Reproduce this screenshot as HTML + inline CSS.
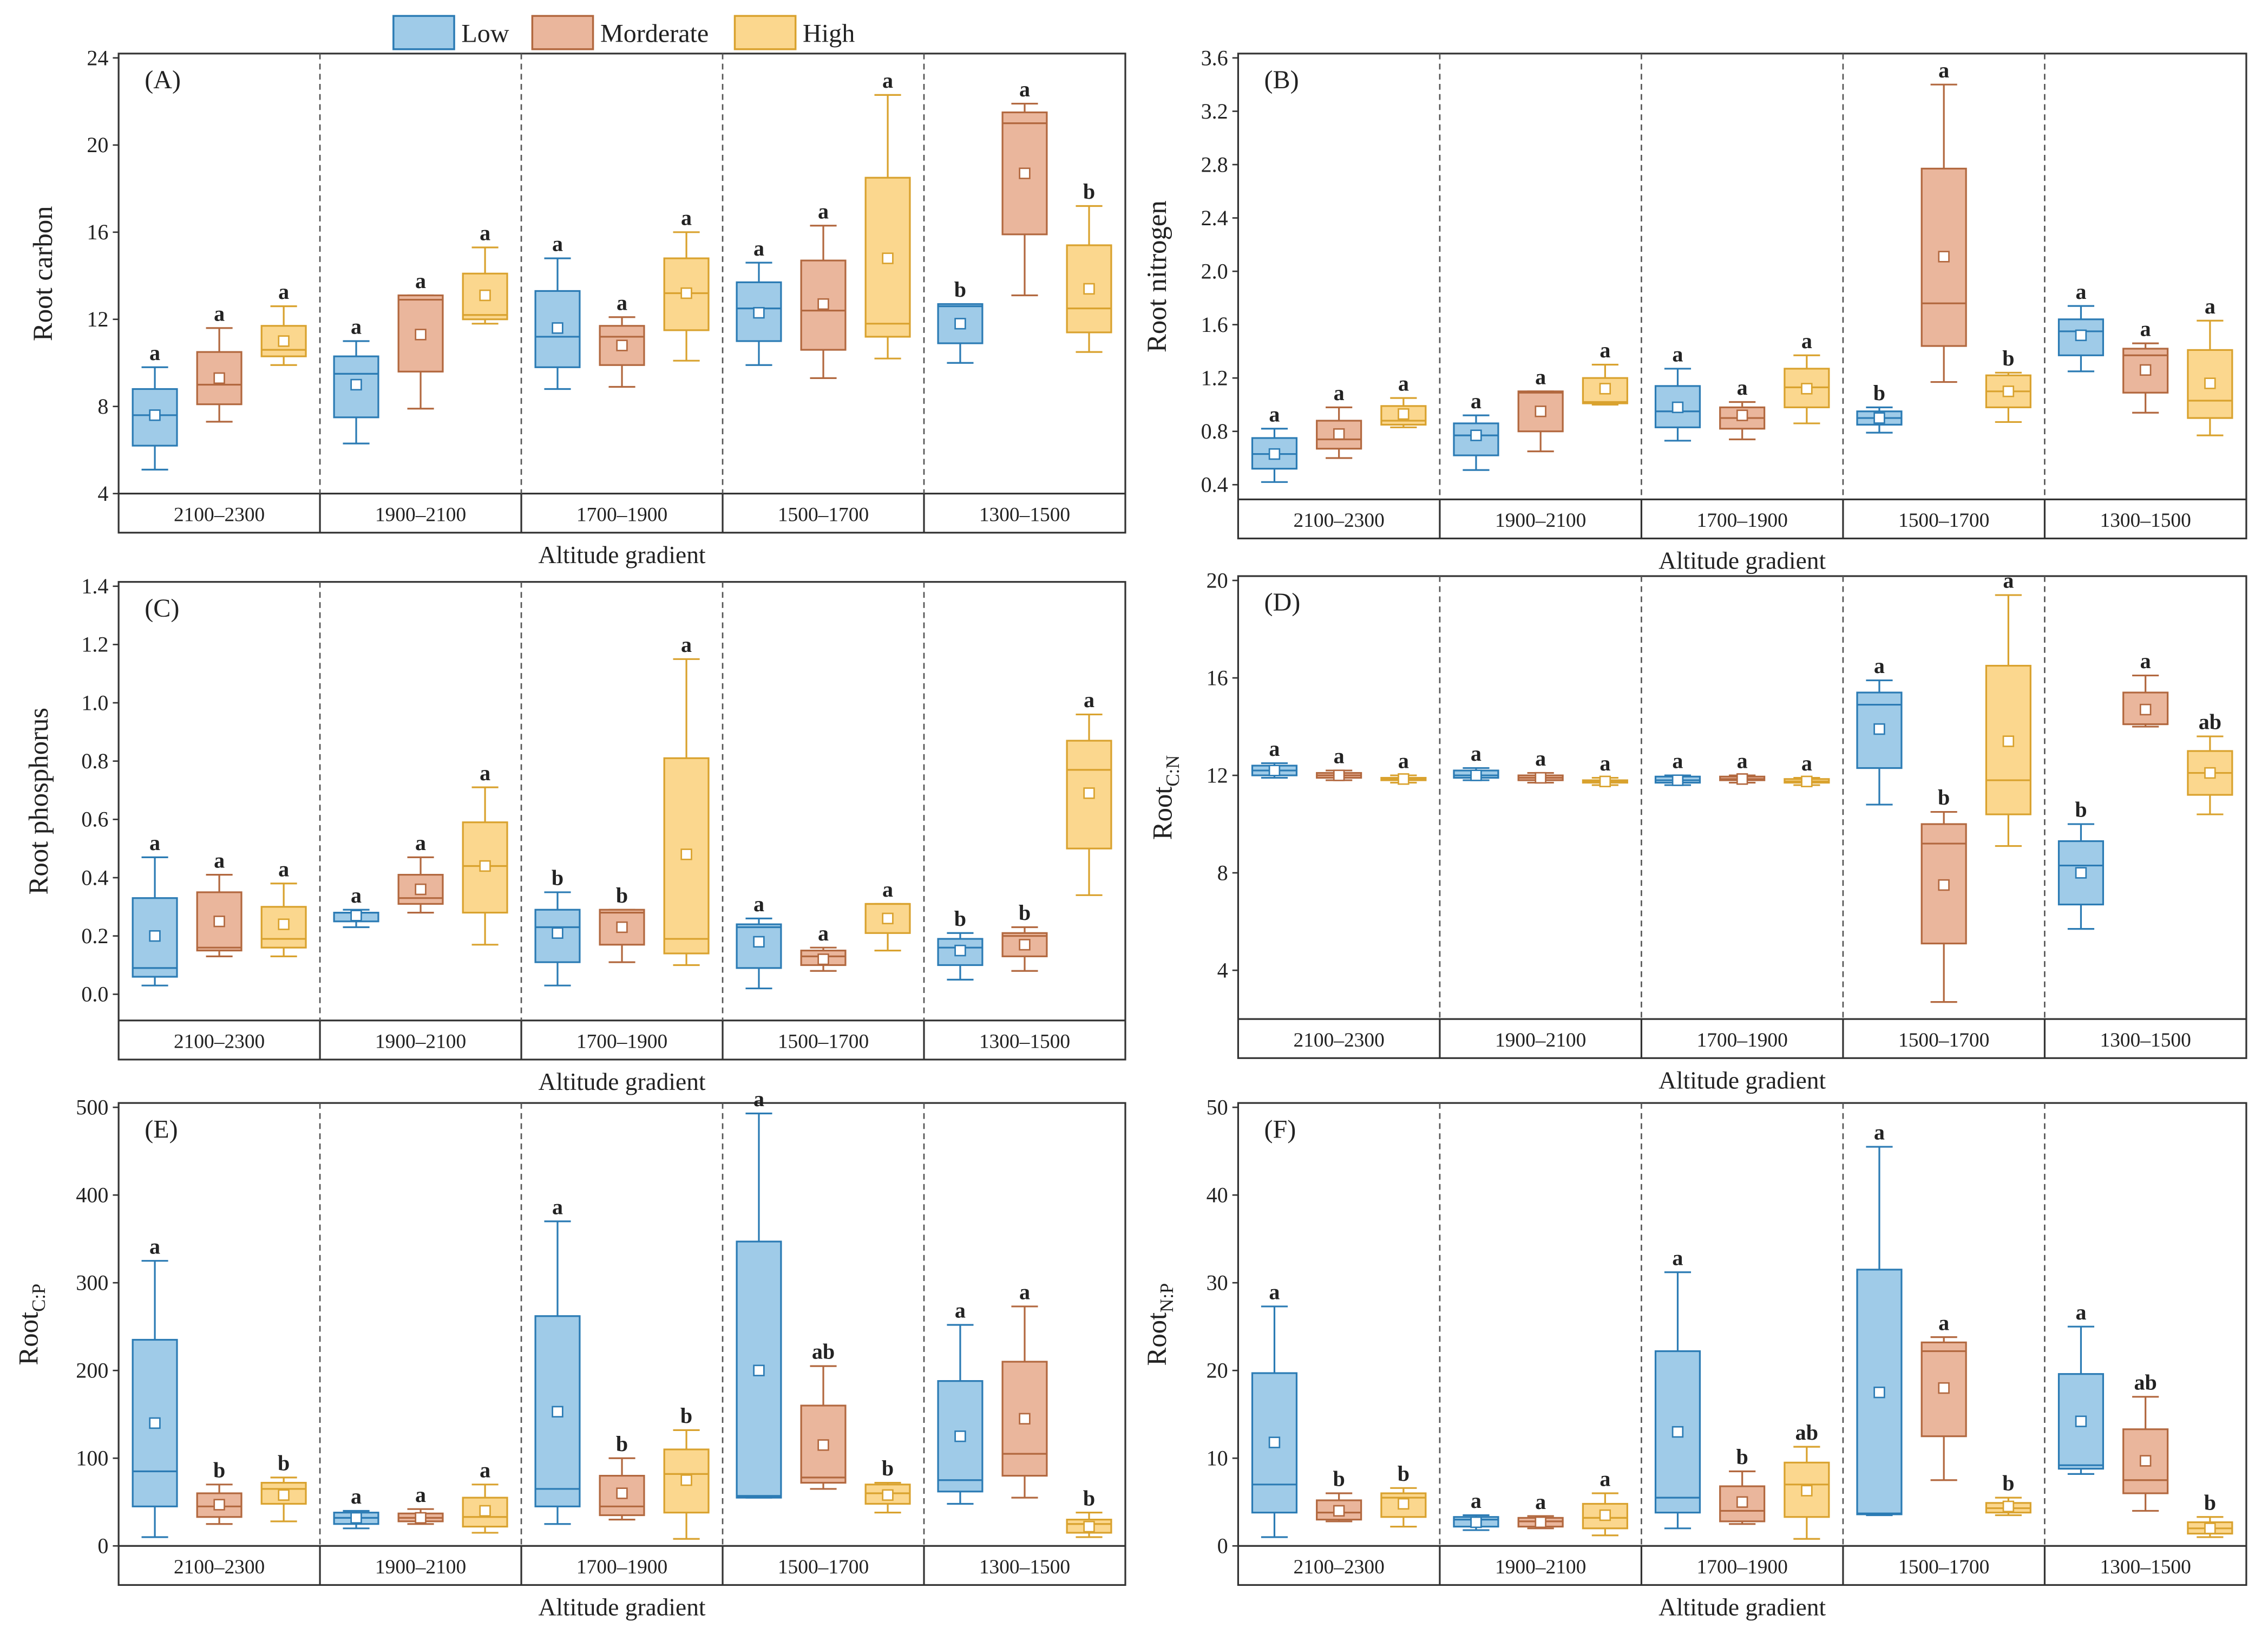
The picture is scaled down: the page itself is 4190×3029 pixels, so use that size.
<!DOCTYPE html>
<html><head><meta charset="utf-8"><style>
html,body{margin:0;padding:0;background:#fff;}
svg{display:block;}
text{font-family:"Liberation Serif",serif;fill:#222;}
</style></head><body>
<svg id="chart" width="4190" height="3029" viewBox="0 0 1568 1133" preserveAspectRatio="none" xmlns="http://www.w3.org/2000/svg"></svg>
<script>
const groupLabels = ["2100–2300","1900–2100","1700–1900","1500–1700","1300–1500"];
const seriesNames = ["Low","Morderate","High"];
// box stats: [whiskerLow, q1, median, q3, whiskerHigh, mean]
const carbonBoxes = [[5.1,6.2,7.6,8.8,9.8,7.6],[7.3,8.1,9.0,10.5,11.6,9.3],[9.9,10.3,10.6,11.7,12.6,11.0],
 [6.3,7.5,9.5,10.3,11.0,9.0],[7.9,9.6,12.9,13.1,13.1,11.3],[11.8,12.0,12.2,14.1,15.3,13.1],
 [8.8,9.8,11.2,13.3,14.8,11.6],[8.9,9.9,11.2,11.7,12.1,10.8],[10.1,11.5,13.2,14.8,16.0,13.2],
 [9.9,11.0,12.5,13.7,14.6,12.3],[9.3,10.6,12.4,14.7,16.3,12.7],[10.2,11.2,11.8,18.5,22.3,14.8],
 [10.0,10.9,12.6,12.7,12.7,11.8],[13.1,15.9,21.0,21.5,21.9,18.7],[10.5,11.4,12.5,15.4,17.2,13.4]];
const carbonLetters = ["a","a","a","a","a","a","a","a","a","a","a","a","b","a","b"];
const nitrogenBoxes = [[0.42,0.52,0.63,0.75,0.82,0.63],[0.60,0.67,0.74,0.88,0.98,0.78],[0.83,0.85,0.88,0.99,1.05,0.93],
 [0.51,0.62,0.77,0.86,0.92,0.77],[0.65,0.80,1.09,1.10,1.10,0.95],[1.0,1.01,1.02,1.20,1.30,1.12],
 [0.73,0.83,0.95,1.14,1.27,0.98],[0.74,0.82,0.90,0.98,1.02,0.92],[0.86,0.98,1.13,1.27,1.37,1.12],
 [0.79,0.85,0.90,0.95,0.98,0.90],[1.17,1.44,1.76,2.77,3.40,2.11],[0.87,0.98,1.10,1.22,1.24,1.10],
 [1.25,1.37,1.55,1.64,1.74,1.52],[0.94,1.09,1.37,1.42,1.46,1.26],[0.77,0.90,1.03,1.41,1.63,1.16]];
const nitrogenLetters = ["a","a","a","a","a","a","a","a","a","b","a","b","a","a","a"];
const phosphorusBoxes = [[0.03,0.06,0.09,0.33,0.47,0.20],[0.13,0.15,0.16,0.35,0.41,0.25],[0.13,0.16,0.19,0.30,0.38,0.24],
 [0.23,0.25,0.28,0.28,0.29,0.27],[0.28,0.31,0.33,0.41,0.47,0.36],[0.17,0.28,0.44,0.59,0.71,0.44],
 [0.03,0.11,0.23,0.29,0.35,0.21],[0.11,0.17,0.28,0.29,0.29,0.23],[0.10,0.14,0.19,0.81,1.15,0.48],
 [0.02,0.09,0.23,0.24,0.26,0.18],[0.08,0.10,0.13,0.15,0.16,0.12],[0.15,0.21,0.31,0.31,0.31,0.26],
 [0.05,0.10,0.16,0.19,0.21,0.15],[0.08,0.13,0.20,0.21,0.23,0.17],[0.34,0.50,0.77,0.87,0.96,0.69]];
const phosphorusLetters = ["a","a","a","a","a","a","b","b","a","a","a","a","b","b","a"];
const cnBoxes = [[11.9,12.0,12.2,12.4,12.5,12.2],[11.8,11.9,12.0,12.1,12.2,12.0],[11.7,11.8,11.85,11.9,12.0,11.85],
 [11.8,11.9,12.0,12.2,12.3,12.0],[11.7,11.8,11.9,12.0,12.1,11.9],[11.6,11.7,11.75,11.8,11.9,11.75],
 [11.6,11.7,11.8,11.95,12.0,11.8],[11.7,11.8,11.85,11.95,12.0,11.85],[11.6,11.7,11.75,11.85,11.9,11.75],
 [10.8,12.3,14.9,15.4,15.9,13.9],[2.7,5.1,9.2,10.0,10.5,7.5],[9.1,10.4,11.8,16.5,19.4,13.4],
 [5.7,6.7,8.3,9.3,10.0,8.0],[14.0,14.1,14.1,15.4,16.1,14.7],[10.4,11.2,12.1,13.0,13.6,12.1]];
const cnLetters = ["a","a","a","a","a","a","a","a","a","a","b","a","b","a","ab"];
const cpBoxes = [[10,45,85,235,325,140],[25,33,45,60,70,47],[28,48,65,72,78,58],
 [20,25,32,38,40,32],[25,28,32,37,42,32],[15,22,33,55,70,40],
 [25,45,65,262,370,153],[30,35,45,80,100,60],[8,38,82,110,132,75],
 [55,55,57,347,493,200],[65,72,78,160,205,115],[38,48,60,70,72,58],
 [48,62,75,188,252,125],[55,80,105,210,273,145],[10,15,25,30,38,22]];
const cpLetters = ["a","b","b","a","a","a","a","b","b","a","ab","b","a","a","b"];
const npBoxes = [[1,3.8,7,19.7,27.3,11.8],[2.8,3.0,3.8,5.2,6.0,4.0],[2.2,3.3,5.5,6.0,6.6,4.8],
 [1.8,2.2,3.0,3.3,3.5,2.7],[2.0,2.2,2.8,3.2,3.4,2.7],[1.2,2.0,3.2,4.8,6.0,3.5],
 [2.0,3.8,5.5,22.2,31.2,13.0],[2.5,2.8,4.0,6.8,8.5,5.0],[0.8,3.3,7.0,9.5,11.3,6.3],
 [3.5,3.6,3.7,31.5,45.5,17.5],[7.5,12.5,22.2,23.2,23.8,18.0],[3.5,3.8,4.3,4.9,5.5,4.5],
 [8.2,8.8,9.2,19.6,25.0,14.2],[4.0,6.0,7.5,13.3,17.0,9.7],[1.0,1.4,2.0,2.7,3.3,2.0]];
const npLetters = ["a","b","b","a","a","a","a","b","ab","a","a","b","a","ab","b"];
const carbonTicks = [4,8,12,16,20,24];
const nitrogenTicks = [0.4,0.8,1.2,1.6,2.0,2.4,2.8,3.2,3.6];
const phosphorusTicks = [0.0,0.2,0.4,0.6,0.8,1.0,1.2,1.4];
const cnTicks = [4,8,12,16,20];
const cpTicks = [0,100,200,300,400,500];
const npTicks = [0,10,20,30,40,50];

const NS="http://www.w3.org/2000/svg";
const svg=document.getElementById('chart');
function el(tag,attrs,parent){const e=document.createElementNS(NS,tag);for(const k in attrs)e.setAttribute(k,attrs[k]);(parent||svg).appendChild(e);return e;}
const fills=["#9fcbe8","#eab69c","#fbd78e"];
const strokes=["#2b7bb4","#b2683f","#d9a22e"];

function panel(cfg){
  const g=el('g',{});
  
  
  const L=cfg.x0,R=cfg.x1,T=cfg.y0,B=cfg.y1;
  const ymin=(cfg.lo!==undefined)?cfg.lo:cfg.ticks[0],ymax=cfg.ticks[cfg.ticks.length-1];
  const ys=v=>B-(v-ymin)/(ymax-ymin)*(B-T-3);
  const gw=(R-L)/5;
  const fr=el('rect',{x:L,y:T,width:R-L,height:B-T+27,fill:'none',stroke:'#333','stroke-width':1.2},g);
  
  
  el('line',{x1:L,x2:R,y1:B,y2:B,stroke:'#333','stroke-width':1.2},g);
  for(let i=1;i<5;i++){
    const d=el('line',{x1:L+gw*i,x2:L+gw*i,y1:T,y2:B,stroke:'#555','stroke-width':1,'stroke-dasharray':'4,3'},g);
    
    
    el('line',{x1:L+gw*i,x2:L+gw*i,y1:B,y2:B+27,stroke:'#333','stroke-width':1.2},g);
  }
  groupLabels.forEach((lab,i)=>{
    const t=el('text',{x:L+gw*(i+0.5),y:B+19,'text-anchor':'middle','font-size':14},g);
    t.textContent=lab;
    
    
  });
  const xt=el('text',{x:(L+R)/2,y:B+48,'text-anchor':'middle','font-size':17},g);
  xt.textContent='Altitude gradient';
  
  
  cfg.ticks.forEach(v=>{
    const y=ys(v);
    el('line',{x1:L-4,x2:L,y1:y,y2:y,stroke:'#333','stroke-width':1},g);
    const t=el('text',{x:L-7,y:y+5,'text-anchor':'end','font-size':15},g);
    t.textContent=cfg.fmt(v);
    
    
  });
  const yt=el('text',{x:0,y:0,'text-anchor':'middle','font-size':19,transform:`translate(${cfg.tx},${(T+B)/2}) rotate(-90)`},g);
  
  
  if(cfg.sub){yt.textContent='Root';const s=el('tspan',{'font-size':13,dy:5},yt);s.textContent=cfg.sub;}
  else yt.textContent=cfg.title;
  const pl=el('text',{x:L+18,y:T+24,'font-size':18},g);
  pl.textContent='('+cfg.id+')';
  
  
  const bw=gw*0.22;
  cfg.boxes.forEach((b,i)=>{
    const gi=Math.floor(i/3),si=i%3;
    const cx=L+gw*(gi+0.5)+(si-1)*gw*0.32;
    const bg=el('g',{},g);
    
    
    const st=strokes[si];
    el('line',{x1:cx,x2:cx,y1:ys(b[0]),y2:ys(b[4]),stroke:st,'stroke-width':1.2},bg);
    el('line',{x1:cx-bw*0.3,x2:cx+bw*0.3,y1:ys(b[0]),y2:ys(b[0]),stroke:st,'stroke-width':1.2},bg);
    el('line',{x1:cx-bw*0.3,x2:cx+bw*0.3,y1:ys(b[4]),y2:ys(b[4]),stroke:st,'stroke-width':1.2},bg);
    el('rect',{x:cx-bw/2,y:ys(b[3]),width:bw,height:Math.max(1,ys(b[1])-ys(b[3])),fill:fills[si],stroke:st,'stroke-width':1.2},bg);
    el('line',{x1:cx-bw/2,x2:cx+bw/2,y1:ys(b[2]),y2:ys(b[2]),stroke:st,'stroke-width':1.2},bg);
    el('rect',{x:cx-3.5,y:ys(b[5])-3.5,width:7,height:7,fill:'#fff',stroke:st,'stroke-width':1},bg);
    const lt=el('text',{x:cx,y:ys(b[4])-5,'text-anchor':'middle','font-size':15,'font-weight':'bold'},bg);
    lt.textContent=cfg.letters[i];
    
    
  });
}
const f1=v=>v.toFixed(1), f0=v=>String(v);
panel({id:'A',x0:82,x1:778,y0:37,y1:341,ticks:carbonTicks,fmt:f0,boxes:carbonBoxes,letters:carbonLetters,title:'Root carbon',tx:36});
panel({id:'B',x0:856,x1:1553,y0:37,y1:345,lo:0.29,ticks:nitrogenTicks,fmt:f1,boxes:nitrogenBoxes,letters:nitrogenLetters,title:'Root nitrogen',tx:806});
panel({id:'C',x0:82,x1:778,y0:402,y1:705,lo:-0.09,ticks:phosphorusTicks,fmt:f1,boxes:phosphorusBoxes,letters:phosphorusLetters,title:'Root phosphorus',tx:33});
panel({id:'D',x0:856,x1:1553,y0:398,y1:704,lo:2.0,ticks:cnTicks,fmt:f0,boxes:cnBoxes,letters:cnLetters,sub:'C:N',tx:810});
panel({id:'E',x0:82,x1:778,y0:762,y1:1068,ticks:cpTicks,fmt:f0,boxes:cpBoxes,letters:cpLetters,sub:'C:P',tx:26});
panel({id:'F',x0:856,x1:1553,y0:762,y1:1068,ticks:npTicks,fmt:f0,boxes:npBoxes,letters:npLetters,sub:'N:P',tx:806});

const lg=el('g',{});


const lx=[272,368,508];
seriesNames.forEach((n,i)=>{
  const r=el('rect',{x:lx[i],y:11,width:42,height:23,fill:fills[i],stroke:strokes[i],'stroke-width':1.3},lg);
  
  
  const t=el('text',{x:lx[i]+47,y:29,'font-size':18},lg);
  t.textContent=n;
  
  
});
</script>
</body></html>
